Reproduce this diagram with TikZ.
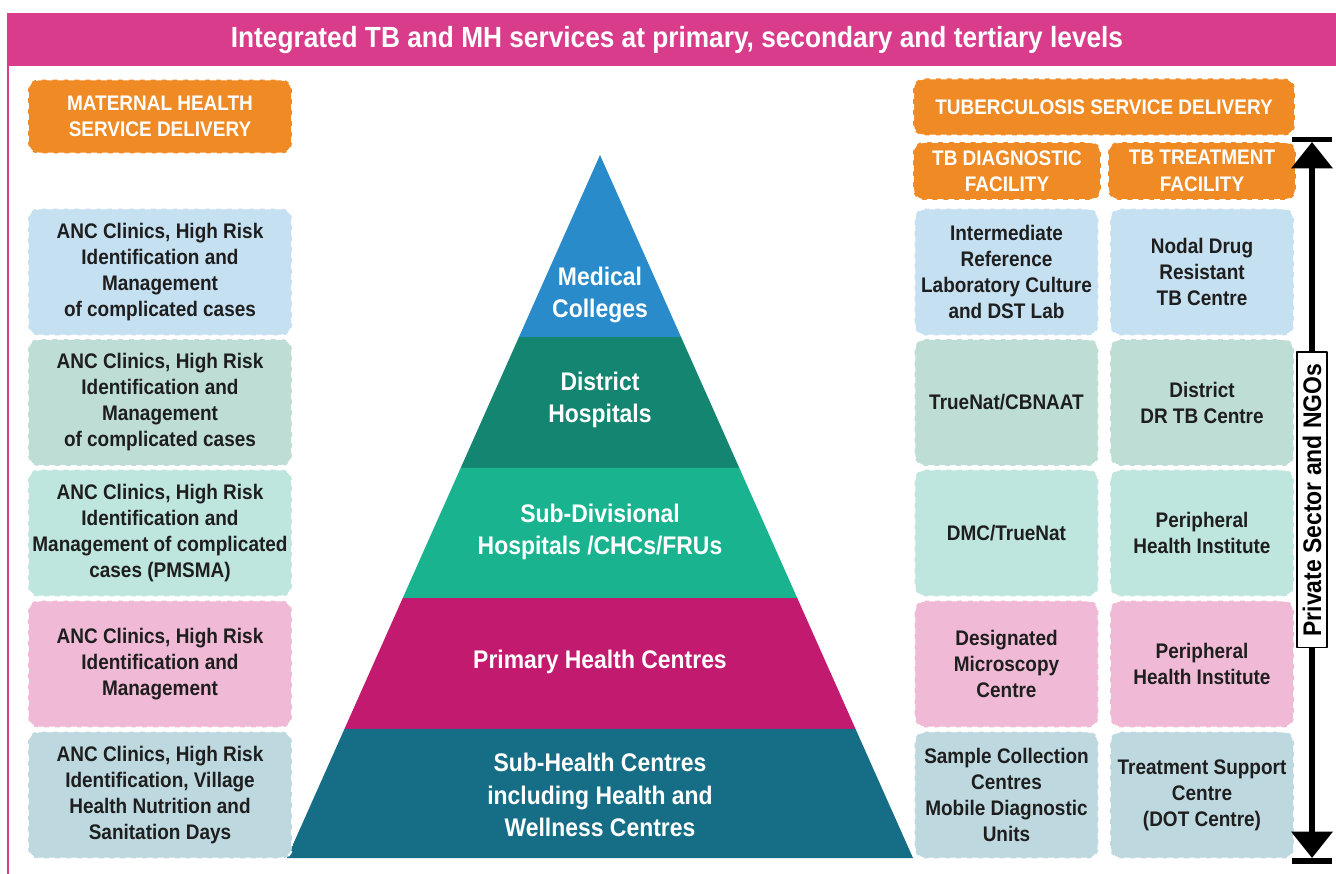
\documentclass[tikz,border=0pt]{standalone}
\usepackage{fontspec}
\setmainfont{Liberation Sans}[FakeStretch=0.9]
\usetikzlibrary{calc,arrows.meta}
\definecolor{hdpink}{HTML}{D83C8B}
\definecolor{orng}{HTML}{F08A24}
\definecolor{txtdark}{HTML}{1E1E1E}
\definecolor{rowblue}{HTML}{C5E0F1}
\definecolor{rowsage}{HTML}{BEDDD5}
\definecolor{rowmint}{HTML}{BEE5DE}
\definecolor{rowpink}{HTML}{F0BAD6}
\definecolor{rowgrey}{HTML}{BED8E0}
\definecolor{mcblue}{HTML}{2A8BCB}
\definecolor{dhgreen}{HTML}{148570}
\definecolor{sdteal}{HTML}{19B38F}
\definecolor{phcmag}{HTML}{C21A6F}
\definecolor{shcteal}{HTML}{166E86}
\begin{document}
\begin{tikzpicture}[x=0.02cm, y=-0.02cm, line join=round,
	box/.style={draw=white, dash pattern=on 3.4pt off 2.8pt, line width=1.1pt, rounded corners=6pt, align=center, inner sep=2pt, text=txtdark, font=\bfseries\fontsize{12}{14.8}\selectfont},
	mhbox/.style={box, minimum width=5.28cm, minimum height=2.54cm},
	tbbox/.style={box, minimum width=3.68cm, minimum height=2.54cm},
	orbox/.style={box, fill=orng, text=white, font=\bfseries\fontsize{12}{15}\selectfont},
	tier/.style={text=white, align=center, font=\bfseries\fontsize{14.5}{18.5}\selectfont}]
	\useasboundingbox (0,0) rectangle (1336,874);
	\fill[hdpink] (8,13) rectangle (1336,66);
	\draw[hdpink, line width=1.3pt] (8,13) -- (8,874);
	\node[text=white, font=\bfseries\fontsize{16.6}{19}\selectfont] (title) at (677,40) {Integrated TB and MH services at primary, secondary and tertiary levels};
	\node[orbox, minimum width=5.28cm, minimum height=1.48cm] (mhhead) at (160,116.5) {MATERNAL HEALTH\\SERVICE DELIVERY};
	\node[orbox, minimum width=7.64cm, minimum height=1.14cm] (tbhead) at (1104,107) {TUBERCULOSIS SERVICE DELIVERY};
	\node[orbox, minimum width=3.76cm, minimum height=1.16cm] (dxhead) at (1007,171) {TB DIAGNOSTIC\\FACILITY};
	\node[orbox, minimum width=3.76cm, minimum height=1.16cm] (rxhead) at (1202,171) {TB TREATMENT\\FACILITY};
	% pyramid of facility levels
	\coordinate (apex) at (600,155); \coordinate (bl) at (287,858); \coordinate (br) at (913,858);
	\foreach \ta/\tb/\col in {0/0.2589/mcblue, 0.2589/0.4452/dhgreen, 0.4452/0.6302/sdteal, 0.6302/0.8165/phcmag, 0.8165/1/shcteal}
		\fill[\col] ($(apex)!\ta!(bl)$) -- ($(apex)!\tb!(bl)$) -- ($(apex)!\tb!(br)$) -- ($(apex)!\ta!(br)$) -- cycle;
	\node[tier] (mc) at (600,295) {Medical\\Colleges};
	\node[tier] (dh) at (600,400) {District\\Hospitals};
	\node[tier] (sdh) at (600,532) {Sub-Divisional\\Hospitals /CHCs/FRUs};
	\node[tier] (phc) at (600,662) {Primary Health Centres};
	\node[tier] (shc) at (600,795) {Sub-Health Centres\\including Health and\\Wellness Centres};
	% maternal health column
	\foreach \n/\yy/\col/\txt in {
		1/272/rowblue/{ANC Clinics, High Risk\\Identification and\\Management\\of complicated cases},
		2/402.5/rowsage/{ANC Clinics, High Risk\\Identification and\\Management\\of complicated cases},
		3/533/rowmint/{ANC Clinics, High Risk\\Identification and\\Management of complicated\\cases (PMSMA)},
		4/664/rowpink/{ANC Clinics, High Risk\\Identification and\\Management},
		5/795/rowgrey/{ANC Clinics, High Risk\\Identification, Village\\Health Nutrition and\\Sanitation Days}}
		\node[mhbox, fill=\col] (mh\n) at (160,\yy) {\txt};
	% TB diagnostic and treatment columns
	\foreach \n/\yy/\col/\dx/\rx in {
		1/272/rowblue/{Intermediate\\Reference\\Laboratory Culture\\and DST Lab}/{Nodal Drug\\Resistant\\TB Centre},
		2/402.5/rowsage/{TrueNat/CBNAAT}/{District\\DR TB Centre},
		3/533/rowmint/{DMC/TrueNat}/{Peripheral\\Health Institute},
		4/664/rowpink/{Designated\\Microscopy\\Centre}/{Peripheral\\Health Institute},
		5/795/rowgrey/{Sample Collection\\Centres\\Mobile Diagnostic\\Units}/{Treatment Support\\Centre\\(DOT Centre)}}
	{
		\node[tbbox, fill=\col] (dx\n) at (1006.5,\yy) {\dx};
		\node[tbbox, fill=\col] (rx\n) at (1202,\yy) {\rx};
	}
	% private sector span
	\coordinate (atop) at (1312,142); \coordinate (abot) at (1312,858);
	\draw[line width=3.2pt, {Triangle[width=23pt,length=15pt]}-{Triangle[width=23pt,length=15pt]}] (atop) -- (abot);
	\draw[line width=3pt] (1292,139.5) -- (1332,139.5) (1292,861) -- (1332,861);
	\node[draw=black, fill=white, line width=0.6pt, rotate=90, minimum width=5.92cm, minimum height=0.6cm, inner sep=1pt, font=\bfseries\fontsize{14.5}{16}\selectfont] (psn) at (1312,500) {Private Sector and NGOs};
\end{tikzpicture}
\end{document}
